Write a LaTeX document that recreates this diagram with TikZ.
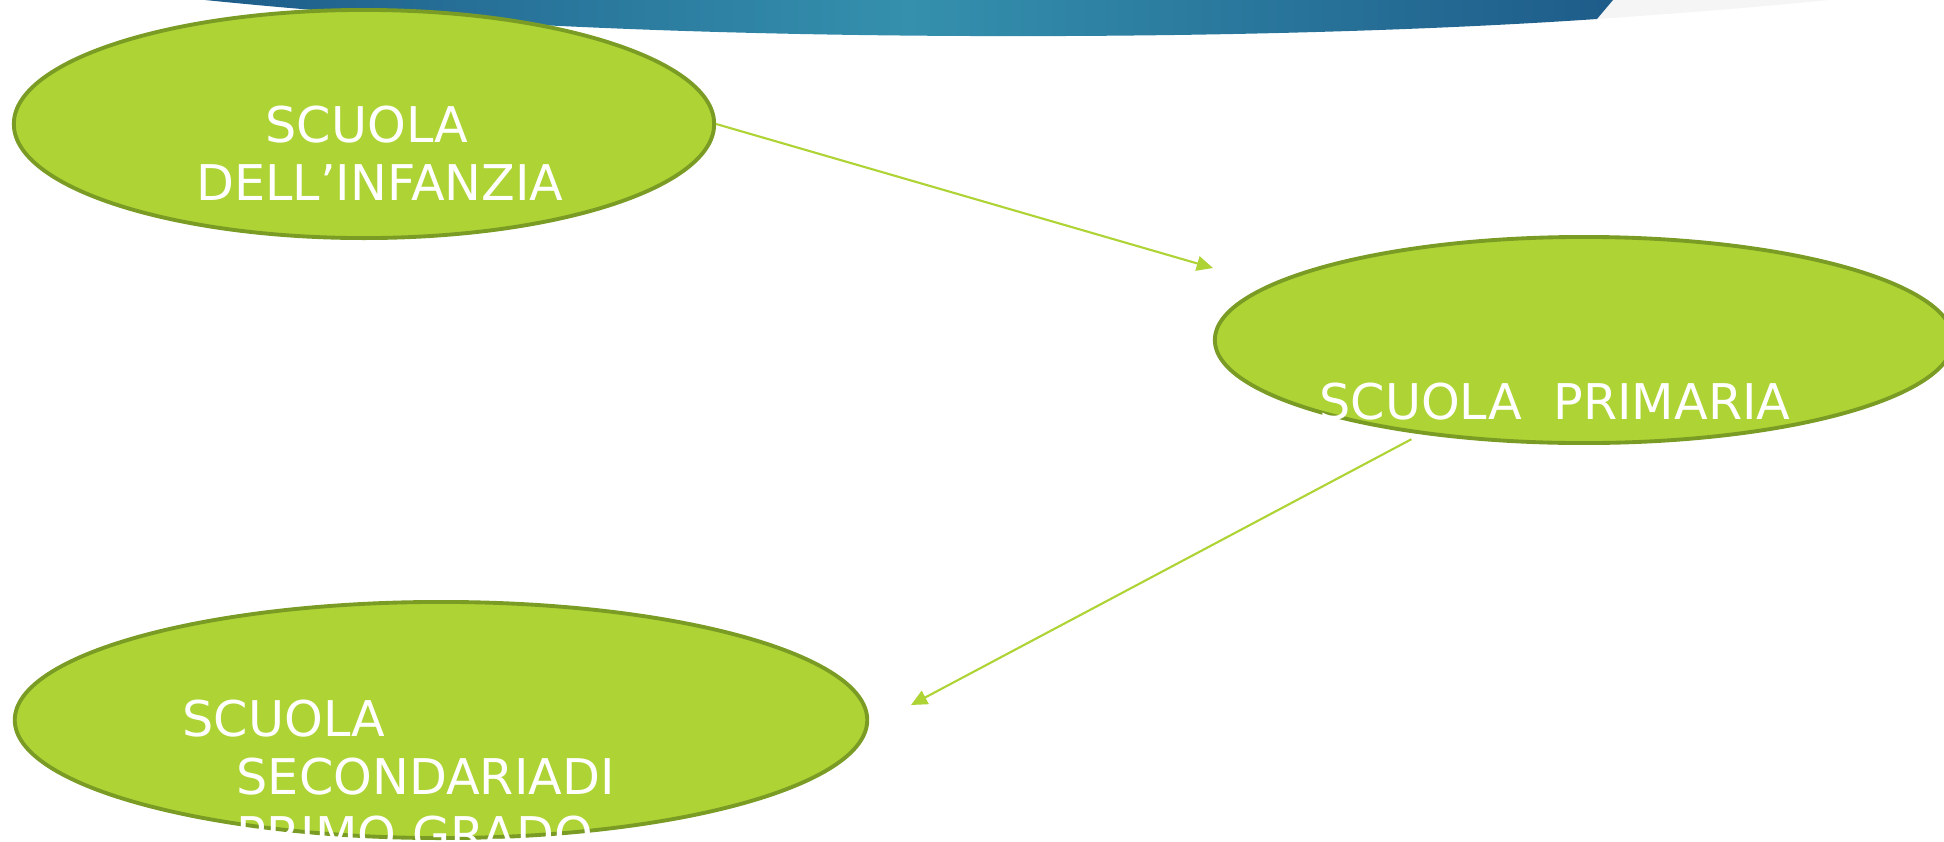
\documentclass[tikz,border=0pt]{standalone}
\usepackage{fontspec}
\setmainfont{DejaVu Sans}
\usetikzlibrary{arrows.meta,shapes.geometric}
\definecolor{leafgreen}{HTML}{AED335}
\definecolor{leafedge}{HTML}{7A9C24}
\definecolor{bandblue}{HTML}{1E5C8A}
\definecolor{bandteal}{HTML}{3490AD}
\definecolor{bandgray}{HTML}{F5F5F5}

\begin{document}
\begin{tikzpicture}[x=0.01cm,y=-0.01cm,
        schoolbubble/.style={ellipse,draw=leafedge,line width=1.1pt,fill=leafgreen,inner sep=0pt},
        schooltext/.style={text=white,inner sep=0pt,font=\fontsize{14}{16.5}\selectfont},
        passage/.style={draw=leafgreen,line width=0.6pt,-{Triangle[length=4.6pt,width=4.2pt]}}]
        \useasboundingbox (0,0) rectangle (1944,842);
        % banner at the top
        \fill[bandgray] (1613,0) -- (1597,19) .. controls (1700,12) and (1780,5) .. (1829,0) -- cycle;
        \path[left color=bandblue,right color=bandblue,middle color=bandteal,shading angle=90]
          (205,0) .. controls (500,30) and (800,37) .. (1065,36)
          .. controls (1300,35) and (1480,27) .. (1597,19) -- (1613,0) -- cycle;
        % the three schools
        \node[schoolbubble,minimum width=7cm,minimum height=2.28cm] (infanzia) at (364,124) {};
        \node[schoolbubble,minimum width=7.38cm,minimum height=2.06cm] (primaria) at (1584,340) {};
        \node[schoolbubble,minimum width=8.52cm,minimum height=2.36cm] (secondaria) at (441,720) {};
        \node[schooltext,align=center] (infanzia text) at (380,153) {SCUOLA\hspace*{0.26cm}\\DELL’INFANZIA};
        \node[schooltext] (primaria text) at (1555,402) {SCUOLA\ \ PRIMARIA};
        \node[schooltext,align=left,anchor=north west] (secondaria text) at (182,699)
          {SCUOLA\\\hspace*{0.54cm}SECONDARIADI\\\hspace*{0.54cm}PRIMO GRADO};
        % arrows
        \coordinate (tip one) at (1213,268);
        \coordinate (tip two) at (911,705);
        \draw[passage] (infanzia.east) -- (tip one);
        \draw[passage,shorten <=3pt] (primaria.210) -- (tip two);
\end{tikzpicture}
\end{document}
